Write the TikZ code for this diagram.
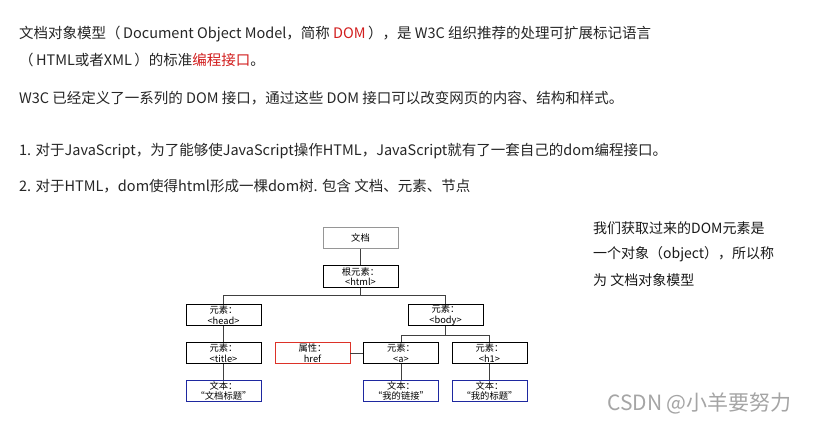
\documentclass[tikz,border=0pt]{standalone}
\usepackage{fontspec}
\setmainfont{Noto Sans CJK SC}
\usetikzlibrary{positioning}
\definecolor{domred}{RGB}{210,30,30}
\definecolor{boxgray}{RGB}{150,150,150}
\definecolor{textblue}{RGB}{30,40,160}
\definecolor{hrefred}{RGB}{220,50,40}
\definecolor{markgray}{RGB}{165,165,165}
\tikzset{
  line/.style={anchor=west,inner sep=0pt,font=\fontsize{14.5}{17}\selectfont,text=black!85},
  side/.style={anchor=west,inner sep=0pt,font=\fontsize{14}{17}\selectfont,text=black!90},
  tbox/.style={draw,rectangle,line width=0.9pt,minimum width=75pt,minimum height=21.5pt,
    inner sep=0pt,align=center,font=\fontsize{9.3}{10.5}\selectfont},
  docbox/.style={tbox,draw=boxgray},
  elbox/.style={tbox,draw=black},
  attrbox/.style={tbox,draw=hrefred},
  txtbox/.style={tbox,draw=textblue},
  edge/.style={draw=black!75,line width=0.8pt}
}
\begin{document}
\begin{tikzpicture}[x=1pt,y=-1pt]
  \useasboundingbox (0,0) rectangle (819,422);
  \fill[white] (0,0) rectangle (819,422);

  % text above the tree
  \node[line] (l1) at (19,34) {文档对象模型（\,Document Object Model，简称 \textcolor{domred}{DOM}\,），是 W3C 组织推荐的处理可扩展标记语言};
  \node[line] (l2) at (19,60) {（\,HTML或者XML\,）的标准\textcolor{domred}{编程接口}。};
  \node[line] (l3) at (19,98) {W3C 已经定义了一系列的 DOM 接口，通过这些 DOM 接口可以改变网页的内容、结构和样式。};
  \node[line] (l4) at (19,151) {1. 对于JavaScript，为了能够使JavaScript操作HTML，JavaScript就有了一套自己的dom编程接口。};
  \node[line] (l5) at (19,186) {2. 对于HTML，dom使得html形成一棵dom树. 包含 文档、元素、节点};

  % note on the right
  \node[side] (n1) at (593,228) {我们获取过来的DOM元素是};
  \node[side] (n2) at (593,254) {一个对象（object），所以称};
  \node[side] (n3) at (593,280) {为 文档对象模型};

  % DOM tree
  \node[docbox] (doc) at (360.5,238) {文档};
  \node[elbox] (html) at (360.5,276.5) {根元素：\\<html>};
  \node[elbox] (head) at (223.5,315) {元素：\\<head>};
  \node[elbox] (body) at (445.5,315) {元素：\\<body>};
  \node[elbox] (title) at (223.5,353) {元素：\\<title>};
  \node[attrbox] (href) at (312.5,353) {属性：\\href};
  \node[elbox] (a) at (401,353) {元素：\\<a>};
  \node[elbox] (h1) at (489.5,353) {元素：\\<h1>};
  \node[txtbox] (t1) at (223.5,391) {文本：\\“文档标题”};
  \node[txtbox] (t2) at (401,391) {文本：\\“我的链接”};
  \node[txtbox] (t3) at (489.5,391) {文本：\\“我的标题”};
  \coordinate (j1) at (360.5,295);
  \coordinate (j2) at (445.5,335);

  \draw[edge] (doc) -- (html);
  \draw[edge] (html) -- (j1) -| (head);
  \draw[edge] (j1) -| (body);
  \draw[edge] (body) -- (j2) -| (a);
  \draw[edge] (j2) -| (h1);
  \draw[edge] (head) -- (title);
  \draw[edge] (title) -- (t1);
  \draw[edge] (href) -- (a);
  \draw[edge] (a) -- (t2);
  \draw[edge] (h1) -- (t3);

  % watermark
  \node[anchor=west,inner sep=0pt,font=\fontsize{21}{24}\selectfont,text=markgray] (mark) at (607,403) {CSDN @小羊要努力};
\end{tikzpicture}
\end{document}
